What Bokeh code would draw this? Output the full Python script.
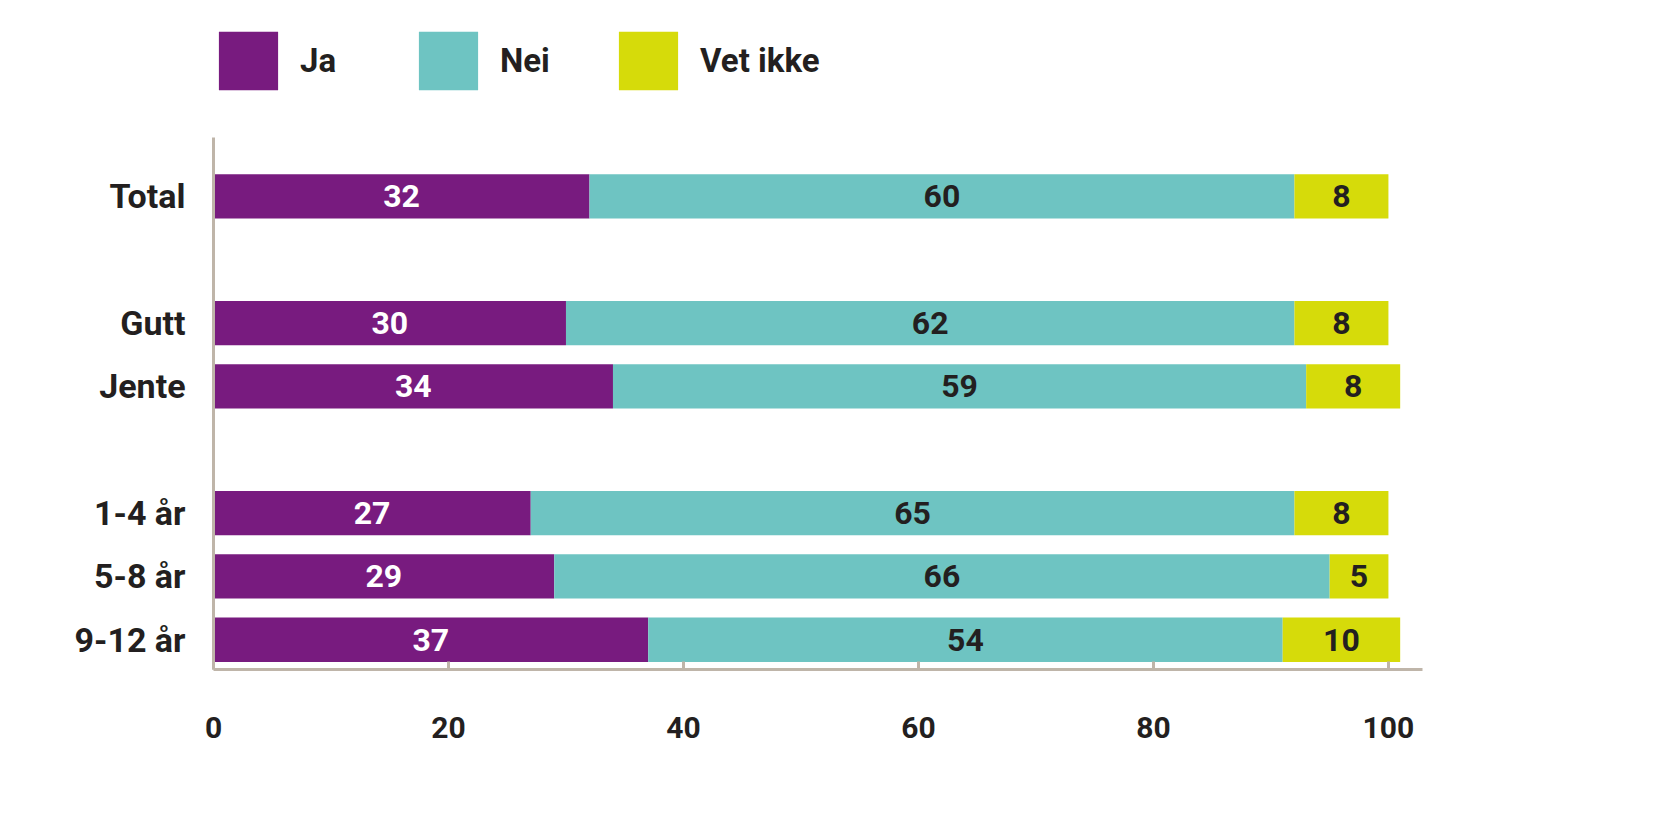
from bokeh.plotting import figure
from bokeh.layouts import column
from bokeh.models import ColumnDataSource, Range1d, Legend, LegendItem, FixedTicker
from bokeh.core.properties import value
from bokeh.embed import file_html
from bokeh.resources import INLINE

# ---- data ----
groups = [["Total"], ["Gutt", "Jente"], ["1-4 år", "5-8 år", "9-12 år"]]
categories = ["Total", "Gutt", "Jente", "1-4 år", "5-8 år", "9-12 år"]
ja = [32, 30, 34, 27, 29, 37]
nei = [60, 62, 59, 65, 66, 54]
vet = [8, 8, 8, 8, 5, 10]
series = ["Ja", "Nei", "Vet ikke"]
x_ticks = [0, 20, 40, 60, 80, 100]

colors = ["#781B7F", "#6EC4C2", "#D6DB0A"]
label_colors = ["#FFFFFF", "#231F20", "#231F20"]
FONT = "Roboto"
TXT = "#231F20"
AXIS = "#BFB5A9"

# row positions: one blank row between groups
ypos = []
r = 0
for gi, g in enumerate(groups):
    if gi > 0:
        r += 1
    for _ in g:
        ypos.append(r)
        r += 1

src = ColumnDataSource(dict(y=ypos, cat=categories, Ja=ja, Nei=nei, Vet=vet))

# ---------- main chart ----------
p = figure(width=1600, height=642, output_backend="svg", toolbar_location=None,
           x_range=Range1d(0, 102.9), y_range=Range1d(max(ypos) + 0.47, -0.93),
           min_border_left=213, min_border_right=178, min_border_top=0, min_border_bottom=110)

p.hbar_stack(["Ja", "Nei", "Vet"], y="y", height=0.7, color=colors,
             line_color=None, source=src)

# value labels
stacks = [ja, nei, vet]
left = [0] * len(categories)
for s, vals in enumerate(stacks):
    cx = [l + v / 2 for l, v in zip(left, vals)]
    lsrc = ColumnDataSource(dict(x=cx, y=ypos, t=[str(v) for v in vals]))
    p.text(x="x", y="y", text="t", source=lsrc, text_align="center", text_baseline="middle",
           text_font=value(FONT), text_font_style="bold", text_font_size="32px",
           text_color=label_colors[s])
    left = [l + v for l, v in zip(left, vals)]

p.xgrid.grid_line_color = None
p.ygrid.grid_line_color = None
p.outline_line_color = None

p.xaxis.ticker = FixedTicker(ticks=x_ticks)
p.xaxis.axis_line_color = AXIS
p.xaxis.axis_line_width = 3
p.xaxis.major_tick_line_color = AXIS
p.xaxis.major_tick_line_width = 3
p.xaxis.major_tick_in = 8
p.xaxis.major_tick_out = 0
p.xaxis.minor_tick_line_color = None
p.xaxis.major_label_standoff = 47
p.xaxis.major_label_text_font = FONT
p.xaxis.major_label_text_font_style = "bold"
p.xaxis.major_label_text_font_size = "30px"
p.xaxis.major_label_text_color = TXT

p.yaxis.ticker = FixedTicker(ticks=ypos)
p.yaxis.major_label_overrides = {y: c for y, c in zip(ypos, categories)}
p.yaxis.axis_line_color = AXIS
p.yaxis.axis_line_width = 3
p.yaxis.major_tick_line_color = None
p.yaxis.minor_tick_line_color = None
p.yaxis.major_label_standoff = 22
p.yaxis.major_label_text_font = FONT
p.yaxis.major_label_text_font_style = "bold"
p.yaxis.major_label_text_font_size = "34px"
p.yaxis.major_label_text_color = TXT

# ---------- legend strip (same stacked series, drawn out of view; only its legend shows) ----------
lg = figure(width=1600, height=137, output_backend="svg", toolbar_location=None,
            x_range=Range1d(0, 1), y_range=Range1d(50, 51),
            min_border_left=213, min_border_right=178, min_border_top=0, min_border_bottom=0)
lg.axis.visible = False
lg.grid.grid_line_color = None
lg.outline_line_color = None
lg_renderers = lg.hbar_stack(["Ja", "Nei", "Vet"], y="y", height=0.7, color=colors,
                             line_color=None, source=src)

legend = Legend(items=[LegendItem(label=s, renderers=[rr]) for s, rr in zip(series, lg_renderers)],
                orientation="horizontal", location=(-2, 40),
                glyph_width=74, glyph_height=73, label_standoff=15, label_width=111,
                spacing=0, padding=0, margin=0,
                border_line_color=None, background_fill_alpha=0,
                label_text_font=FONT, label_text_font_style="bold",
                label_text_font_size="33px", label_text_color=TXT)
lg.add_layout(legend, "center")

layout = column(lg, p, spacing=0)
open("out.html", "w").write(file_html(layout, INLINE))
